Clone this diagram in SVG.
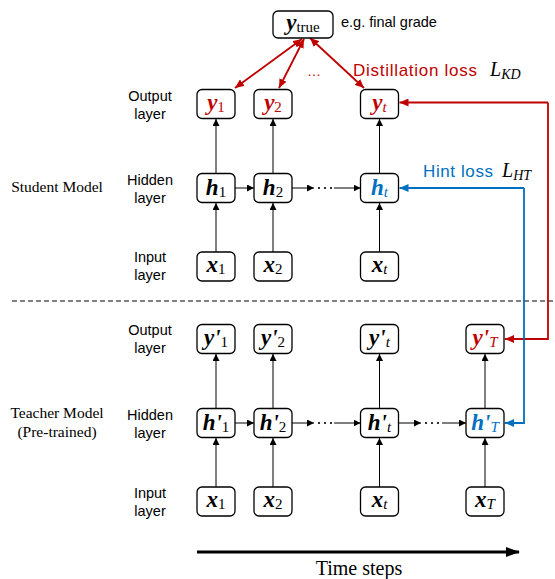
<svg xmlns="http://www.w3.org/2000/svg" width="555" height="579" viewBox="0 0 555 579">
<style>
.box{fill:#fff;stroke:#000;stroke-width:1.3}
.con{fill:none;stroke:#000;stroke-width:1}
.red{fill:none;stroke:#C00000;stroke-width:1.8}
.blue{fill:none;stroke:#0070C0;stroke-width:1.8}
.lbl{font-family:"Liberation Sans",Arial,sans-serif;font-size:14.5px;fill:#000;text-anchor:middle}
.ser{font-family:"Liberation Serif","Times New Roman",serif;fill:#000}
.nv{font-family:"Liberation Serif","Times New Roman",serif;font-size:23px;font-weight:bold;font-style:italic;text-anchor:middle}
.sub{font-size:15px;font-weight:normal}
.it{font-style:italic}
.up{font-style:normal}
.r{fill:#C00000}
.b{fill:#0070C0}
.k{fill:#000}
</style>
<defs>
<marker id="ah" markerUnits="userSpaceOnUse" markerWidth="7" markerHeight="7" refX="7" refY="3.5" orient="auto"><path d="M0,0 L7,3.5 L0,7 z" fill="#000"/></marker>
<marker id="ahr" markerUnits="userSpaceOnUse" markerWidth="9" markerHeight="8" refX="9" refY="4" orient="auto-start-reverse"><path d="M0,0 L9,4 L0,8 z" fill="#C00000"/></marker>
<marker id="ahb" markerUnits="userSpaceOnUse" markerWidth="9" markerHeight="8" refX="9" refY="4" orient="auto"><path d="M0,0 L9,4 L0,8 z" fill="#0070C0"/></marker>
<marker id="ahbig" markerUnits="userSpaceOnUse" markerWidth="14" markerHeight="10" refX="13" refY="5" orient="auto"><path d="M0,0 L14,5 L0,10 z" fill="#000"/></marker>
</defs>

<!-- left labels -->
<g id="labels">
<text class="ser" x="57" y="192" font-size="15.5" text-anchor="middle">Student Model</text>
<text class="ser" x="57" y="418" font-size="15.5" text-anchor="middle">Teacher Model</text>
<text class="ser" x="57" y="437" font-size="15.5" text-anchor="middle">(Pre-trained)</text>
<text class="lbl" x="150" y="101">Output</text><text class="lbl" x="150" y="119">layer</text>
<text class="lbl" x="150" y="185">Hidden</text><text class="lbl" x="150" y="203">layer</text>
<text class="lbl" x="150" y="262">Input</text><text class="lbl" x="150" y="280">layer</text>
<text class="lbl" x="150" y="335">Output</text><text class="lbl" x="150" y="353">layer</text>
<text class="lbl" x="150" y="420">Hidden</text><text class="lbl" x="150" y="438">layer</text>
<text class="lbl" x="150" y="498">Input</text><text class="lbl" x="150" y="516">layer</text>
<text x="341" y="27" font-family="Liberation Sans,Arial,sans-serif" font-size="14.5" fill="#000">e.g. final grade</text>
<text x="353" y="76" font-family="Liberation Sans,Arial,sans-serif" font-size="17" fill="#C00000" textLength="124">Distillation loss</text>
<text x="490" y="76" class="ser it" font-size="20" fill="#C00000">L<tspan font-size="14" dy="3">KD</tspan></text>
<text x="423" y="177" font-family="Liberation Sans,Arial,sans-serif" font-size="17" fill="#0070C0" textLength="70">Hint loss</text>
<text x="502" y="177" class="ser it" font-size="20" fill="#0070C0">L<tspan font-size="14" dy="3">HT</tspan></text>
<text x="314" y="76" font-family="Liberation Sans,Arial,sans-serif" font-size="14" fill="#C00000" text-anchor="middle">…</text>
<text class="ser" x="359" y="575" font-size="20" text-anchor="middle">Time steps</text>
</g>

<!-- separator -->
<line x1="12" y1="301" x2="555" y2="301" stroke="#000" stroke-width="1" stroke-dasharray="5,3"/>

<!-- connectors -->
<g id="connectors">
<line class="con" x1="216" y1="252" x2="216" y2="203" marker-end="url(#ah)"/>
<line class="con" x1="273" y1="252" x2="273" y2="203" marker-end="url(#ah)"/>
<line class="con" x1="379.5" y1="252" x2="379.5" y2="203" marker-end="url(#ah)"/>
<line class="con" x1="216" y1="173.5" x2="216" y2="119" marker-end="url(#ah)"/>
<line class="con" x1="273" y1="173.5" x2="273" y2="119" marker-end="url(#ah)"/>
<line class="con" x1="379.5" y1="173.5" x2="379.5" y2="119" marker-end="url(#ah)"/>
<line class="con" x1="235" y1="188" x2="254" y2="188" marker-end="url(#ah)"/>
<line class="con" x1="292" y1="188" x2="314" y2="188" marker-end="url(#ah)"/>
<g fill="#000"><circle cx="319" cy="188" r="1.1"/><circle cx="325" cy="188" r="1.1"/><circle cx="331" cy="188" r="1.1"/></g>
<line class="con" x1="334" y1="188" x2="360.5" y2="188" marker-end="url(#ah)"/>
<line class="con" x1="216" y1="487" x2="216" y2="438" marker-end="url(#ah)"/>
<line class="con" x1="273" y1="487" x2="273" y2="438" marker-end="url(#ah)"/>
<line class="con" x1="379.5" y1="487" x2="379.5" y2="438" marker-end="url(#ah)"/>
<line class="con" x1="485" y1="487" x2="485" y2="438" marker-end="url(#ah)"/>
<line class="con" x1="216" y1="408.5" x2="216" y2="354" marker-end="url(#ah)"/>
<line class="con" x1="273" y1="408.5" x2="273" y2="354" marker-end="url(#ah)"/>
<line class="con" x1="379.5" y1="408.5" x2="379.5" y2="354" marker-end="url(#ah)"/>
<line class="con" x1="485" y1="408.5" x2="485" y2="354" marker-end="url(#ah)"/>
<line class="con" x1="235" y1="423" x2="254" y2="423" marker-end="url(#ah)"/>
<line class="con" x1="292" y1="423" x2="314" y2="423" marker-end="url(#ah)"/>
<g fill="#000"><circle cx="319" cy="423" r="1.1"/><circle cx="325" cy="423" r="1.1"/><circle cx="331" cy="423" r="1.1"/></g>
<line class="con" x1="334" y1="423" x2="360.5" y2="423" marker-end="url(#ah)"/>
<line class="con" x1="398.5" y1="423" x2="421" y2="423" marker-end="url(#ah)"/>
<g fill="#000"><circle cx="426" cy="423" r="1.1"/><circle cx="432" cy="423" r="1.1"/><circle cx="438" cy="423" r="1.1"/></g>
<line class="con" x1="442" y1="423" x2="466" y2="423" marker-end="url(#ah)"/>
<line class="red" x1="302" y1="39" x2="235" y2="88" marker-start="url(#ahr)" marker-end="url(#ahr)"/>
<line class="red" x1="304" y1="39" x2="279" y2="88" marker-start="url(#ahr)" marker-end="url(#ahr)"/>
<line class="red" x1="310" y1="38" x2="364" y2="88" marker-start="url(#ahr)" marker-end="url(#ahr)"/>
<polyline class="red" points="548,102.5 548,339 505,339" marker-end="url(#ahr)"/>
<line class="red" x1="548" y1="102.5" x2="399.5" y2="102.5" marker-end="url(#ahr)"/>
<polyline class="blue" points="524,188 524,423 505,423" marker-end="url(#ahb)"/>
<line class="blue" x1="524" y1="188" x2="399.5" y2="188" marker-end="url(#ahb)"/>
<line x1="197" y1="552" x2="519" y2="552" stroke="#000" stroke-width="3" marker-end="url(#ahbig)"/>
</g>

<!-- nodes -->
<g id="ytrue"><rect class="box" x="273" y="11" width="60" height="27" rx="5"/><text class="nv k" x="303" y="30" font-size="24">y<tspan class="sub up" font-size="16" dy="2">true</tspan></text></g>

<g id="y1"><rect class="box" x="197" y="89.5" width="38" height="29" rx="5"/><text class="nv r" x="216" y="110">y<tspan class="sub up" dy="2">1</tspan></text></g>
<g id="y2"><rect class="box" x="254" y="89.5" width="38" height="29" rx="5"/><text class="nv r" x="273" y="110">y<tspan class="sub up" dy="2">2</tspan></text></g>
<g id="yt"><rect class="box" x="360.5" y="89.5" width="38" height="29" rx="5"/><text class="nv r" x="379.5" y="110">y<tspan class="sub it" dy="2">t</tspan></text></g>

<g id="h1"><rect class="box" x="197" y="173.5" width="38" height="29" rx="5"/><text class="nv k" x="216" y="195">h<tspan class="sub up" dy="2">1</tspan></text></g>
<g id="h2"><rect class="box" x="254" y="173.5" width="38" height="29" rx="5"/><text class="nv k" x="273" y="195">h<tspan class="sub up" dy="2">2</tspan></text></g>
<g id="ht"><rect class="box" x="360.5" y="173.5" width="38" height="29" rx="5"/><text class="nv b" x="379.5" y="195">h<tspan class="sub it" dy="2">t</tspan></text></g>

<g id="x1"><rect class="box" x="197" y="252" width="38" height="29" rx="5"/><text class="nv k" x="216" y="272">x<tspan class="sub up" dy="2">1</tspan></text></g>
<g id="x2"><rect class="box" x="254" y="252" width="38" height="29" rx="5"/><text class="nv k" x="273" y="272">x<tspan class="sub up" dy="2">2</tspan></text></g>
<g id="xt"><rect class="box" x="360.5" y="252" width="38" height="29" rx="5"/><text class="nv k" x="379.5" y="272">x<tspan class="sub it" dy="2">t</tspan></text></g>

<g id="yp1"><rect class="box" x="197" y="324.5" width="38" height="29" rx="5"/><text class="nv k" x="216" y="345">y'<tspan class="sub up" dy="2">1</tspan></text></g>
<g id="yp2"><rect class="box" x="254" y="324.5" width="38" height="29" rx="5"/><text class="nv k" x="273" y="345">y'<tspan class="sub up" dy="2">2</tspan></text></g>
<g id="ypt"><rect class="box" x="360.5" y="324.5" width="38" height="29" rx="5"/><text class="nv k" x="379.5" y="345">y'<tspan class="sub it" dy="2">t</tspan></text></g>
<g id="ypT"><rect class="box" x="466" y="324.5" width="38" height="29" rx="5"/><text class="nv r" x="485" y="345">y'<tspan class="sub it" dy="2">T</tspan></text></g>

<g id="hp1"><rect class="box" x="197" y="408.5" width="38" height="29" rx="5"/><text class="nv k" x="216" y="430">h'<tspan class="sub up" dy="2">1</tspan></text></g>
<g id="hp2"><rect class="box" x="254" y="408.5" width="38" height="29" rx="5"/><text class="nv k" x="273" y="430">h'<tspan class="sub up" dy="2">2</tspan></text></g>
<g id="hpt"><rect class="box" x="360.5" y="408.5" width="38" height="29" rx="5"/><text class="nv k" x="379.5" y="430">h'<tspan class="sub it" dy="2">t</tspan></text></g>
<g id="hpT"><rect class="box" x="466" y="408.5" width="38" height="29" rx="5"/><text class="nv b" x="485" y="430">h'<tspan class="sub it" dy="2">T</tspan></text></g>

<g id="xp1"><rect class="box" x="197" y="487" width="38" height="29" rx="5"/><text class="nv k" x="216" y="507">x<tspan class="sub up" dy="2">1</tspan></text></g>
<g id="xp2"><rect class="box" x="254" y="487" width="38" height="29" rx="5"/><text class="nv k" x="273" y="507">x<tspan class="sub up" dy="2">2</tspan></text></g>
<g id="xpt"><rect class="box" x="360.5" y="487" width="38" height="29" rx="5"/><text class="nv k" x="379.5" y="507">x<tspan class="sub it" dy="2">t</tspan></text></g>
<g id="xpT"><rect class="box" x="466" y="487" width="38" height="29" rx="5"/><text class="nv k" x="485" y="507">x<tspan class="sub it" dy="2">T</tspan></text></g>
</svg>
